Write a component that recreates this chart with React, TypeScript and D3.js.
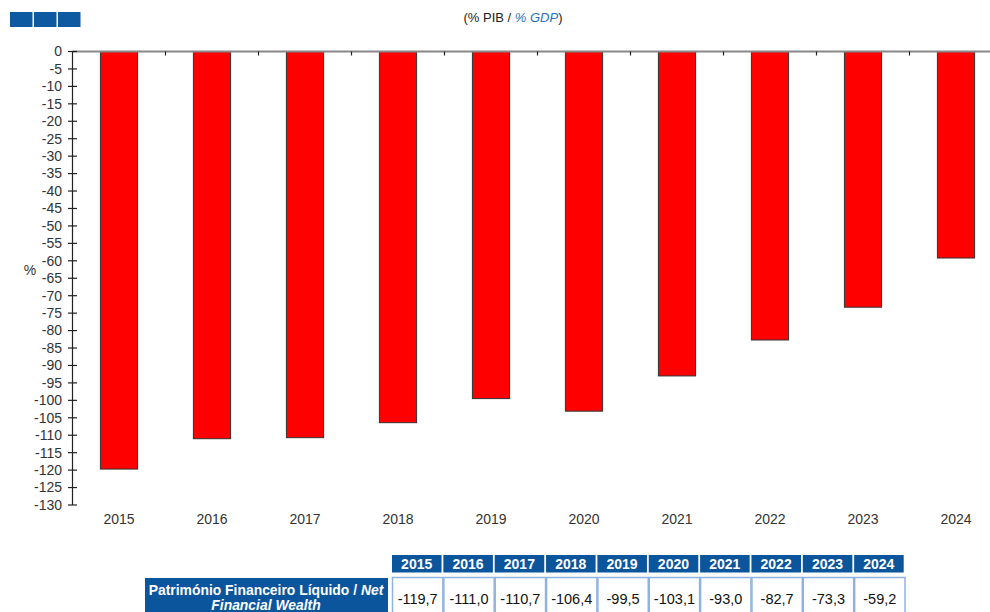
import React from "react";
import * as d3 from "d3";

const years = ["2015", "2016", "2017", "2018", "2019", "2020", "2021", "2022", "2023", "2024"];
const netWealth = [-119.7, -111.0, -110.7, -106.4, -99.5, -103.1, -93.0, -82.7, -73.3, -59.2];
const yTicks = d3.range(0, -131, -5);

const W = 990;
const H = 612;
const blue = "#0b559c";
const font = "'Liberation Sans', Arial, sans-serif";

export default function App() {
  const x = d3
    .scaleBand<string>()
    .domain(years)
    .range([72.5, 1002.5])
    .paddingInner(0.6)
    .paddingOuter(0.3);
  const y = d3.scaleLinear().domain([-130, 0]).range([505, 51.5]);

  // table columns
  const col = d3.scaleBand<string>().domain(years).range([392, 905.5]);
  const fmt = (v: number) => v.toFixed(1).replace(".", ",");

  return (
    <svg
      width={W}
      height={H}
      style={{ position: "absolute", left: 0, top: 0, background: "#fff" }}
      fontFamily={font}
    >
      {/* top-left squares */}
      {[0, 1, 2].map((i) => (
        <rect key={i} x={10 + i * 24} y={12} width={22.5} height={15} fill="#0e5aa2" />
      ))}
      <text x={513} y={22} textAnchor="middle" fontSize={13} fill="#222">
        (% PIB / <tspan fill="#2a73b8" fontStyle="italic">% GDP</tspan>)
      </text>

      {/* bars */}
      {years.map((yr, i) => (
        <rect
          key={yr}
          x={x(yr)}
          y={y(0)}
          width={x.bandwidth()}
          height={y(netWealth[i]) - y(0)}
          fill="#ff0000"
          stroke="#333"
          strokeWidth={1}
        />
      ))}

      {/* x axis at zero */}
      <line x1={72.5} x2={W} y1={y(0)} y2={y(0)} stroke="#888" strokeWidth={2} />
      {d3.range(1, years.length).map((k) => {
        const bx = 72.5 + x.step() * k;
        return <line key={k} x1={bx} x2={bx} y1={y(0)} y2={y(0) + 4} stroke="#222" strokeWidth={1.2} />;
      })}

      {/* y axis */}
      <line x1={72.5} x2={72.5} y1={y(0)} y2={y(-130)} stroke="#222" strokeWidth={1.2} />
      {yTicks.map((t) => (
        <g key={t}>
          <line x1={68} x2={77} y1={y(t)} y2={y(t)} stroke="#222" strokeWidth={1.2} />
          <text x={62} y={y(t)} dy="0.35em" textAnchor="end" fontSize={14} fill="#333">
            {t}
          </text>
        </g>
      ))}
      <text x={30} y={275} textAnchor="middle" fontSize={14} fill="#333">
        %
      </text>

      {/* year labels */}
      {years.map((yr) => (
        <text
          key={yr}
          x={(x(yr) as number) + x.bandwidth() / 2}
          y={524}
          textAnchor="middle"
          fontSize={14}
          fill="#333"
        >
          {yr}
        </text>
      ))}

      {/* table header */}
      {years.map((yr) => (
        <g key={yr}>
          <rect x={col(yr)} y={555} width={col.bandwidth() - 1.8} height={17.5} fill={blue} />
          <text
            x={(col(yr) as number) + col.bandwidth() / 2 - 1}
            y={569}
            textAnchor="middle"
            fontSize={14}
            fontWeight="bold"
            fill="#fff"
          >
            {yr}
          </text>
        </g>
      ))}

      {/* row label */}
      <rect x={145} y={578} width={243} height={40} fill={blue} />
      <text x={266} y={595} textAnchor="middle" fontSize={13.9} fontWeight="bold" fill="#fff">
        Património Financeiro Líquido / <tspan fontStyle="italic">Net</tspan>
      </text>
      <text x={266} y={610} textAnchor="middle" fontSize={13.9} fontWeight="bold" fontStyle="italic" fill="#fff">
        Financial Wealth
      </text>

      {/* values */}
      {years.map((yr, i) => (
        <g key={yr}>
          <rect
            x={(col(yr) as number) + 0.5}
            y={577.5}
            width={col.bandwidth() - 1}
            height={40}
            fill="#fff"
            stroke="#8fb3e0"
            strokeWidth={1.5}
          />
          <text
            x={(col(yr) as number) + col.bandwidth() / 2}
            y={604}
            textAnchor="middle"
            fontSize={14.5}
            fill="#111"
          >
            {fmt(netWealth[i])}
          </text>
        </g>
      ))}
    </svg>
  );
}
